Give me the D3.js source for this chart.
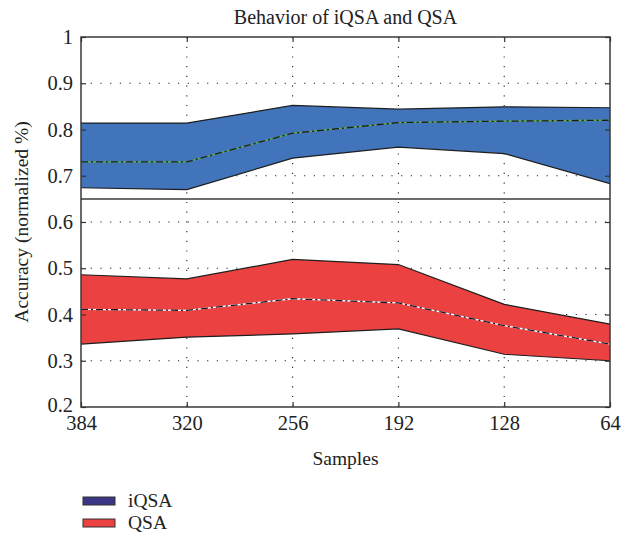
<!DOCTYPE html>
<html>
<head>
<meta charset="utf-8">
<script src="https://cdn.jsdelivr.net/npm/d3@7"></script>
<style>
  html, body { margin: 0; padding: 0; background: #fff; }
  svg text { font-family: "Times New Roman", "Liberation Serif", "DejaVu Serif", serif; }
</style>
</head>
<body>
<svg width="627" height="542"></svg>
<script>
const samples = [384, 320, 256, 192, 128, 64];

const iqsaUpper = [0.814, 0.814, 0.852, 0.844, 0.849, 0.847];
const iqsaMean  = [0.730, 0.730, 0.792, 0.815, 0.818, 0.820];
const iqsaLower = [0.674, 0.670, 0.738, 0.762, 0.748, 0.683];

const qsaUpper = [0.486, 0.477, 0.519, 0.508, 0.422, 0.379];
const qsaMean  = [0.411, 0.409, 0.434, 0.425, 0.376, 0.336];
const qsaLower = [0.336, 0.351, 0.358, 0.369, 0.314, 0.300];

const yTicks = [0.2, 0.3, 0.4, 0.5, 0.6, 0.7, 0.8, 0.9, 1];
const splitAt = 0.65;

const svg = d3.select("svg");
const margin = { left: 81, right: 17, top: 37, bottom: 135 };
const width = 627, height = 542;
const x0 = margin.left, x1 = width - margin.right;
const y0 = margin.top, y1 = height - margin.bottom;

const x = d3.scalePoint().domain(samples).range([x0, x1]);
const y = d3.scaleLinear().domain([0.2, 1]).range([y1, y0]);

// grid
const grid = svg.append("g");
grid.selectAll(".vg")
    .data(samples.slice(1, -1))
    .enter().append("line")
    .attr("x1", d => x(d)).attr("x2", d => x(d))
    .attr("y1", y0).attr("y2", y1)
    .attr("stroke", "#222").attr("stroke-width", 1.1)
    .attr("stroke-dasharray", "1.2,8.5");
grid.selectAll(".hg")
    .data(yTicks.slice(1, -1))
    .enter().append("line")
    .attr("x1", x0).attr("x2", x1)
    .attr("y1", d => y(d)).attr("y2", d => y(d))
    .attr("stroke", "#222").attr("stroke-width", 1.1)
    .attr("stroke-dasharray", "1.2,8.5");

// bands
const series = [
    { up: iqsaUpper, mid: iqsaMean, lo: iqsaLower, fill: "#4174bb", under: "#5fb33a" },
    { up: qsaUpper, mid: qsaMean, lo: qsaLower, fill: "#eb4141", under: "#ffffff" }
];

const area = d3.area()
    .x((d, i) => x(samples[i]))
    .y0(d => y(d[0]))
    .y1(d => y(d[1]));
const line = d3.line()
    .x((d, i) => x(samples[i]))
    .y(d => y(d));

series.forEach(s => {
    const pairs = s.lo.map((v, i) => [v, s.up[i]]);
    svg.append("path").attr("d", area(pairs)).attr("fill", s.fill);
    svg.append("path").attr("d", line(s.up)).attr("fill", "none")
        .attr("stroke", "#1e1e1e").attr("stroke-width", 1.2);
    svg.append("path").attr("d", line(s.lo)).attr("fill", "none")
        .attr("stroke", "#1e1e1e").attr("stroke-width", 1.2);
    svg.append("path").attr("d", line(s.mid)).attr("fill", "none")
        .attr("stroke", s.under).attr("stroke-width", 1.3);
    svg.append("path").attr("d", line(s.mid)).attr("fill", "none")
        .attr("stroke", "#1a1a2a").attr("stroke-width", 1.3)
        .attr("stroke-dasharray", "7,3,2,3");
});

// frame
const frame = svg.append("g").attr("stroke", "#3a3a3a").attr("stroke-width", 1.5).attr("fill", "none");
frame.append("rect").attr("x", x0).attr("y", y0).attr("width", x1 - x0).attr("height", y1 - y0);
frame.append("line").attr("x1", x0).attr("x2", x1).attr("y1", y(splitAt)).attr("y2", y(splitAt));

// axes
const yAxisL = svg.append("g").attr("transform", `translate(${x0},0)`)
    .call(d3.axisLeft(y).tickValues(yTicks).tickFormat(d3.format("")).tickSizeInner(-5).tickSizeOuter(0).tickPadding(8));
const yAxisR = svg.append("g").attr("transform", `translate(${x1},0)`)
    .call(d3.axisRight(y).tickValues(yTicks).tickFormat("").tickSizeInner(-5).tickSizeOuter(0));
const xAxisB = svg.append("g").attr("transform", `translate(0,${y1})`)
    .call(d3.axisBottom(x).tickSizeInner(-5).tickSizeOuter(0).tickPadding(8));
const xAxisT = svg.append("g").attr("transform", `translate(0,${y0})`)
    .call(d3.axisTop(x).tickFormat("").tickSizeInner(-5).tickSizeOuter(0));

[yAxisL, yAxisR, xAxisB, xAxisT].forEach(g => {
    g.attr("font-family", null);
    g.select(".domain").remove();
    g.selectAll(".tick line").attr("stroke", "#333").attr("stroke-width", 1.2);
    g.selectAll("text").attr("font-size", 20.5).attr("fill", "#222");
});
// keep the lowest y label clear of the first x label
yAxisL.selectAll(".tick text").filter(d => d === 0.2).attr("dy", "0.2em");

// titles
svg.append("text").attr("x", (x0 + x1) / 2).attr("y", 24)
    .attr("text-anchor", "middle").attr("font-size", 20).attr("fill", "#222")
    .text("Behavior of iQSA and QSA");
svg.append("text").attr("x", (x0 + x1) / 2).attr("y", 465)
    .attr("text-anchor", "middle").attr("font-size", 19.5).attr("fill", "#222")
    .text("Samples");
svg.append("text")
    .attr("transform", `translate(28,${(y0 + y1) / 2}) rotate(-90)`)
    .attr("text-anchor", "middle").attr("font-size", 19.5).attr("fill", "#222")
    .text("Accuracy (normalized %)");

// legend
const legendNames = ["iQSA", "QSA"];
const legendColors = ["#3a3585", "#eb4141"];
const legend = svg.append("g");
legendNames.forEach((name, i) => {
    const ly = 501 + i * 22;
    legend.append("rect").attr("x", 83).attr("y", ly - 4).attr("width", 32).attr("height", 8)
        .attr("fill", legendColors[i]).attr("stroke", "#333").attr("stroke-width", 1);
    legend.append("text").attr("x", 128).attr("y", ly + 6)
        .attr("font-size", 19.5).attr("fill", "#222").text(name);
});
</script>
</body>
</html>
